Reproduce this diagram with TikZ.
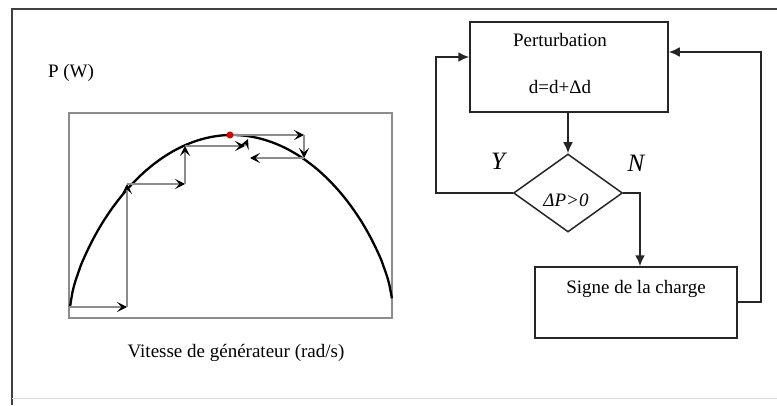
\documentclass[tikz,border=0pt]{standalone}
\usepackage{fontspec}
\setmainfont{Liberation Serif}
\usetikzlibrary{arrows.meta,shapes.geometric}
\begin{document}
\begin{tikzpicture}[x=1pt,y=1pt,
  flow/.style={line width=2pt,draw=black!85},
  flowarrow/.style={flow,-{Latex[length=11pt,width=10pt]}},
  txt/.style={font=\fontsize{19}{22}\selectfont,inner sep=0pt},
  stair/.style={draw=black!45,line width=1.3pt,-{Stealth[length=10pt,width=10pt,inset=4.5pt,black]}},
]
\useasboundingbox (0,0) rectangle (777,405);
% outer frame (partial)
\draw[black!75,line width=1.6pt] (12,0) -- (12,396) -- (777,396);
\draw[black!15,line width=0.6pt] (12,7) -- (777,7);
% plot
\node[draw=black!45,line width=1.3pt,minimum width=323pt,minimum height=205pt,inner sep=0pt] (plotbox) at (230.5,189.5) {};
\node[txt] (ylab) at (71,332) {P (W)};
\node[txt] (xlab) at (236,52) {Vitesse de générateur (rad/s)};
\draw[black,line width=2.3pt] plot[domain=-1:0,samples=60,smooth] ({232+162*\x},{98+172*(max(1-\x*\x,0.00001))^0.7})
  -- plot[domain=0:1,samples=60,smooth] ({232+160*\x},{105+165*(max(1-\x*\x,0.00001))^0.7});
\coordinate (s0) at (69,98);
\coordinate (s1) at (127,98);
\coordinate (s2) at (127,221);
\coordinate (s3) at (185,221);
\coordinate (s4) at (185,259);
\coordinate (s5) at (245,259);
\coordinate (s5b) at (248,266);
\coordinate (t0) at (230,270);
\coordinate (t1) at (304,270);
\coordinate (t2) at (304,247);
\coordinate (t3) at (250,247);
\draw[stair] (s0) -- (s1);
\draw[stair] (s1) -- (s2);
\draw[stair] (s2) -- (s3);
\draw[stair] (s3) -- (s4);
\draw[stair] (s4) -- (s5);
\draw[stair] (s5) -- (s5b);
\draw[stair] (t0) -- (t1);
\draw[stair] (t1) -- (t2);
\draw[stair] (t2) -- (t3);
\fill[red!85!black] (t0) circle (3.5pt);
% flowchart
\node[draw=black!85,line width=1.5pt,minimum width=198pt,minimum height=90pt,inner sep=0pt] (pert) at (569,338) {};
\node[txt] (pertA) at (560,365) {Perturbation};
\node[txt] (pertB) at (560,318) {d=d+Δd};
\node[draw=black!85,line width=1.5pt,diamond,aspect=1.4,minimum width=109pt,minimum height=78pt,inner sep=0pt] (dec) at (568,212) {};
\node[txt,font=\fontsize{19}{22}\selectfont\itshape] (decT) at (566,205) {ΔP>0};
\node[draw=black!85,line width=1.5pt,minimum width=202pt,minimum height=71pt,inner sep=0pt] (sig) at (636,102.5) {};
\node[txt] (sigT) at (636,116) {Signe de la charge};
\node[txt,font=\fontsize{25}{27}\selectfont\itshape] (Y) at (498,244) {Y};
\node[txt,font=\fontsize{25}{27}\selectfont\itshape] (N) at (636,242) {N};
\coordinate (lA) at (436,212);
\coordinate (lB) at (436,348);
\coordinate (rA) at (640,212);
\coordinate (qA) at (761,103);
\coordinate (qB) at (761,353);
\draw[flowarrow] (pert.south -| dec.north) -- (dec.north);
\draw[flowarrow] (dec.west) -- (lA) -- (lB) -- (lB -| pert.west);
\draw[flowarrow] (dec.east) -- (rA) -- (rA |- sig.north);
\draw[flowarrow] (qA -| sig.east) -- (qA) -- (qB) -- (qB -| pert.east);
\end{tikzpicture}
\end{document}
